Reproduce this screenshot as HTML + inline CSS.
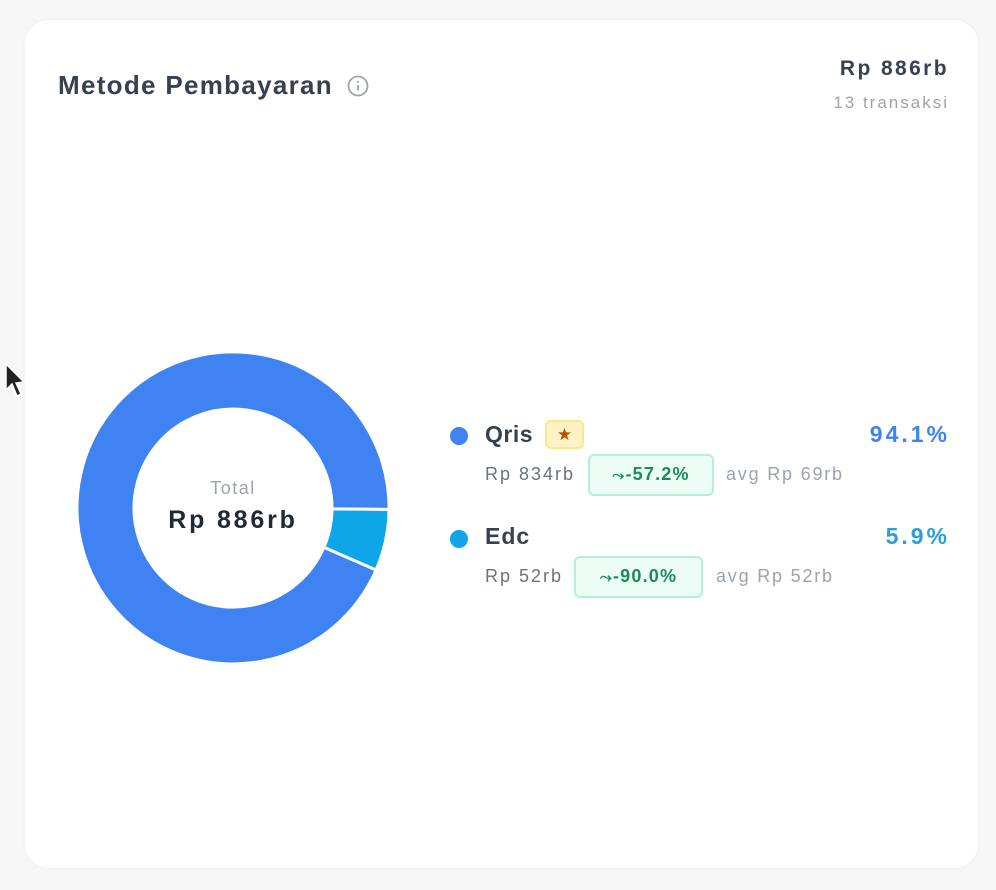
<!DOCTYPE html>
<html><head><style>
body{margin:0;width:996px;height:890px;background:#f7f7f7;font-family:"Liberation Sans",sans-serif;position:relative;overflow:hidden}
.card{position:absolute;left:25px;top:20px;width:953px;height:848px;background:#fff;border-radius:24px;box-shadow:0 0 6px rgba(0,0,0,0.04)}
.a{position:absolute;white-space:nowrap}
.badge{position:absolute;border:2px solid #b3f0d6;background:#ebfdf4;border-radius:6px;color:#1c8a5a;font-weight:bold;font-size:18px;box-sizing:border-box;text-align:center;line-height:36px;letter-spacing:1.2px}
.dot{position:absolute;width:18px;height:18px;border-radius:50%}
.g{color:#6b7280;font-size:18px;letter-spacing:2px}
.l{color:#9ca3af;font-size:18px;letter-spacing:1.8px}
</style></head><body>
<div class="card"></div>
<div class="a" style="left:58px;top:70px;font-size:26px;color:#374151;font-weight:600;letter-spacing:1.3px">Metode Pembayaran</div>
<svg class="a" style="left:346px;top:74px" width="24" height="24"><circle cx="12" cy="12" r="9.5" fill="none" stroke="#9ca3af" stroke-width="1.8"/><line x1="12" y1="11" x2="12" y2="16.5" stroke="#9ca3af" stroke-width="1.8"/><circle cx="12" cy="7.8" r="1.1" fill="#9ca3af"/></svg>
<div class="a" style="right:49px;top:57px;font-size:21px;font-weight:bold;color:#374151;letter-spacing:2.4px;margin-right:-2px">Rp 886rb</div>
<div class="a" style="right:49px;top:93px;font-size:17px;color:#9ca3af;letter-spacing:2px;margin-right:-2px">13 transaksi</div>
<svg class="a" style="left:0;top:0" width="996" height="890">
<path d="M389,509.4 A156,156 0 1 0 376.1,570.0 L323.9,547.3 A99,99 0 1 1 332,508.9 Z" fill="#3f83f3" stroke="#fff" stroke-width="3" stroke-linejoin="round"/>
<path d="M389,509.4 A156,156 0 0 1 376.1,570.0 L323.9,547.3 A99,99 0 0 0 332,508.9 Z" fill="#0ea5e9" stroke="#fff" stroke-width="3" stroke-linejoin="round"/>
<path d="M6,364 L6,390 L12,384 L17,396 L21,394 L16,383 L24,382 Z" fill="#222" stroke="#fff" stroke-width="1.5"/>
</svg>
<div class="a" style="left:133px;top:478px;width:200px;text-align:center;font-size:18px;color:#9ca3af;letter-spacing:1.5px">Total</div>
<div class="a" style="left:133px;top:506px;width:200px;text-align:center;font-size:25px;font-weight:bold;color:#1f2937;letter-spacing:2.8px">Rp 886rb</div>
<div class="dot" style="left:450px;top:427px;background:#3f83f3"></div>
<div class="a" style="left:485px;top:421px;font-size:23px;font-weight:bold;color:#374151;letter-spacing:0.5px">Qris</div>
<div class="a" style="left:545px;top:420px;width:39px;height:29px;border:2px solid #fde68a;background:#fef3c7;border-radius:6px;box-sizing:border-box;text-align:center;color:#b45309;font-size:17px;line-height:25px">★</div>
<div class="a" style="right:49px;top:421px;font-size:23px;font-weight:bold;color:#3f83f3;letter-spacing:3px;margin-right:-3px">94.1%</div>
<div class="a g" style="left:485px;top:464px">Rp 834rb</div>
<div class="badge" style="left:588px;top:454px;width:126px;height:42px"><span style="font-size:15px">⤳</span>-57.2%</div>
<div class="a l" style="left:726px;top:464px">avg Rp 69rb</div>
<div class="dot" style="left:450px;top:530px;background:#0ea5e9"></div>
<div class="a" style="left:485px;top:523px;font-size:23px;font-weight:bold;color:#374151;letter-spacing:1px">Edc</div>
<div class="a" style="right:49px;top:523px;font-size:23px;font-weight:bold;color:#2b9de0;letter-spacing:3px;margin-right:-3px">5.9%</div>
<div class="a g" style="left:485px;top:566px">Rp 52rb</div>
<div class="badge" style="left:574px;top:556px;width:129px;height:42px"><span style="font-size:15px">⤳</span>-90.0%</div>
<div class="a l" style="left:716px;top:566px">avg Rp 52rb</div>
</body></html>
